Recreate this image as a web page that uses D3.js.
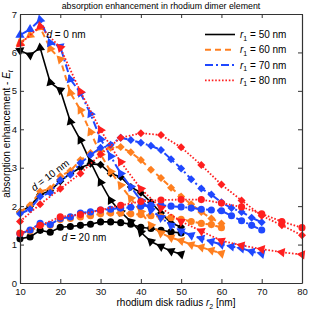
<!DOCTYPE html>
<html>
<head>
<meta charset="utf-8">
<script src="https://cdn.jsdelivr.net/npm/d3@7"></script>
<style>
  body { margin: 0; background: #fff; }
  svg { display: block; font-family: "Liberation Sans", Arial, sans-serif; }
</style>
</head>
<body>
<div id="chart"></div>
<script>
// disk radius r2 sampled for each r1
const radius50 = [10, 12.5, 15, 17.5, 20, 22.5, 25, 27.5, 30, 32.5, 35, 37.5, 40, 42.5, 45, 47.5, 50];
const radius60 = [10, 12.5, 15, 17.5, 20, 22.5, 25, 27.5, 30, 32.5, 35, 37.5, 40, 42.5, 45, 47.5, 50,
  52.5, 55, 57.5, 60];
const radius70 = [10, 12.5, 15, 17.5, 20, 22.5, 25, 27.5, 30, 32.5, 35, 37.5, 40, 42.5, 45, 47.5, 50,
  52.5, 55, 57.5, 60, 62.5, 65, 67.5, 70];
const radius80 = [10, 15, 20, 25, 30, 35, 40, 45, 50, 55, 60, 65, 70, 75, 80];

// enhancement values, one array per (r1, d)
const r50d0 = [6.05, 5.93, 6.12, 5.22, 5.02, 4.2, 3.72, 3.15, 2.62, 2.15, 1.85, 1.6, 1.32, 1.08, 0.95, 0.83, 0.75];
const r50d10 = [1.85, 2.0, 2.3, 2.4, 2.65, 2.85, 3.0, 3.1, 3.08, 2.85, 2.76, 2.5, 2.35, 2.1, 1.82, 1.56, 1.46];
const r50d20 = [1.15, 1.2, 1.37, 1.32, 1.45, 1.47, 1.5, 1.53, 1.59, 1.59, 1.57, 1.53, 1.45, 1.42, 1.37, 1.33, 1.3];

const r60d0 = [6.25, 6.45, 6.65, 6.1, 5.82, 4.95, 4.5, 3.93, 3.35, 2.9, 2.54, 2.2, 1.85, 1.5, 1.3, 1.18, 1.1,
  1.0, 0.93, 0.85, 0.77];
const r60d10 = [1.85, 2.02, 2.38, 2.45, 2.78, 2.92, 3.2, 3.38, 3.45, 3.52, 3.54, 3.4, 3.2, 2.95, 2.73, 2.48, 2.25,
  2.05, 1.85, 1.68, 1.55];
const r60d20 = [1.3, 1.35, 1.5, 1.5, 1.65, 1.68, 1.72, 1.75, 1.8, 1.82, 1.82, 1.8, 1.78, 1.75, 1.72, 1.7, 1.66,
  1.6, 1.55, 1.52, 1.44];

const r70d0 = [6.45, 6.6, 6.85, 6.25, 6.15, 5.3, 4.95, 4.4, 3.75, 3.3, 2.85, 2.5, 2.15, 1.9, 1.7, 1.5, 1.35,
  1.24, 1.16, 1.08, 1.0, 0.95, 0.9, 0.82, 0.76];
const r70d10 = [1.8, 1.92, 2.25, 2.35, 2.68, 2.82, 3.12, 3.33, 3.52, 3.6, 3.78, 3.72, 3.65, 3.57, 3.46, 3.22, 2.98,
  2.7, 2.46, 2.3, 2.1, 1.95, 1.85, 1.7, 1.58];
const r70d20 = [1.28, 1.38, 1.55, 1.52, 1.68, 1.72, 1.82, 1.85, 1.9, 1.92, 1.95, 1.97, 2.0, 2.02, 2.02, 2.0, 1.98,
  1.95, 1.92, 1.9, 1.88, 1.75, 1.62, 1.5, 1.38];

const r80d0 = [6.22, 6.68, 6.12, 4.98, 3.98, 3.15, 2.45, 1.95, 1.6, 1.35, 1.1, 0.98, 0.88, 0.8, 0.74];
const r80d10 = [1.6, 2.05, 2.45, 2.85, 3.35, 3.78, 3.9, 3.85, 3.53, 3.07, 2.56, 2.15, 1.75, 1.5, 1.24];
const r80d20 = [1.29, 1.5, 1.72, 1.78, 1.9, 2.02, 2.12, 2.16, 2.17, 2.17, 2.08, 1.98, 1.8, 1.6, 1.44];

const r1Values = [50, 60, 70, 80];
const xTicks = [10, 20, 30, 40, 50, 60, 70, 80];
const yTicks = [0, 1, 2, 3, 4, 5, 6, 7];

const series = [
  {r1: 50, d: 0, x: radius50, y: r50d0},
  {r1: 50, d: 10, x: radius50, y: r50d10},
  {r1: 50, d: 20, x: radius50, y: r50d20},
  {r1: 60, d: 0, x: radius60, y: r60d0},
  {r1: 60, d: 10, x: radius60, y: r60d10},
  {r1: 60, d: 20, x: radius60, y: r60d20},
  {r1: 70, d: 0, x: radius70, y: r70d0},
  {r1: 70, d: 10, x: radius70, y: r70d10},
  {r1: 70, d: 20, x: radius70, y: r70d20},
  {r1: 80, d: 0, x: radius80, y: r80d0},
  {r1: 80, d: 10, x: radius80, y: r80d10},
  {r1: 80, d: 20, x: radius80, y: r80d20},
];

// styles per r1
const colors = {50: '#000000', 60: '#ff7f1f', 70: '#1f48ff', 80: '#ff1f1f'};
const dashes = {50: null, 60: '6,4', 70: '8,3,2,3', 80: '1.6,1.8'};
const widths = {50: 1.6, 60: 2, 70: 2, 80: 1.8};

const margin = {top: 14, right: 7, bottom: 26, left: 20};
const W = 309;
const H = 309;
const width = W - margin.left - margin.right;
const height = H - margin.top - margin.bottom;

const svg = d3.select('#chart')
    .append('svg')
    .attr('width', W)
    .attr('height', H);

const g = svg.append('g')
    .attr('transform', 'translate(' + margin.left + ',' + margin.top + ')');

const x = d3.scaleLinear().domain([10, 80]).range([0, width]);
const y = d3.scaleLinear().domain([0, 7]).range([height, 0]);

svg.append('clipPath').attr('id', 'plotclip')
    .append('rect')
    .attr('x', -6).attr('y', -6)
    .attr('width', width + 12).attr('height', height + 12);

const plot = g.append('g').attr('clip-path', 'url(#plotclip)');

const line = d3.line()
    .x((d) => x(d[0]))
    .y((d) => y(d[1]));

const tri = d3.symbol().type(d3.symbolTriangle).size(38)();
const circ = d3.symbol().type(d3.symbolCircle).size(40)();
const sq = d3.symbol().type(d3.symbolSquare).size(32)();

series.forEach((s) => {
  const pts = s.x.map((v, i) => [v, s.y[i]]);
  const col = colors[s.r1];
  plot.append('path')
      .datum(pts)
      .attr('fill', 'none')
      .attr('stroke', col)
      .attr('stroke-width', widths[s.r1])
      .attr('stroke-dasharray', dashes[s.r1])
      .attr('d', line);

  const mk = plot.append('g');
  pts.forEach((p, i) => {
    const px = x(p[0]);
    const py = y(p[1]);
    let path;
    let rot = 0;
    if (s.d === 0) {
      // triangle pointing back along the curve
      const q = i > 0 ? pts[i - 1] : pts[i + 1];
      let dx = x(q[0]) - px;
      let dy = y(q[1]) - py;
      if (i === 0) {
        dx = -dx; dy = -dy;
      }
      rot = Math.atan2(dy, dx) * 180 / Math.PI + 90;
      path = tri;
    } else if (s.d === 10) {
      path = sq;
      rot = 45;
    } else {
      path = circ;
    }
    mk.append('path')
        .attr('d', path)
        .attr('fill', col)
        .attr('transform', 'translate(' + px + ',' + py + ') rotate(' + rot + ')');
  });
});

// axes, ticks point inward
const axisColor = '#333';
g.append('g')
    .attr('transform', 'translate(0,' + height + ')')
    .call(d3.axisBottom(x).tickValues(xTicks).tickFormat(d3.format('d'))
        .tickSize(-4).tickSizeOuter(0).tickPadding(5));
g.append('g')
    .call(d3.axisTop(x).tickValues(xTicks).tickSize(-4).tickSizeOuter(0).tickFormat(''));
g.append('g')
    .call(d3.axisLeft(y).tickValues(yTicks).tickFormat(d3.format('d'))
        .tickSize(-4).tickSizeOuter(0).tickPadding(3));
g.append('g')
    .attr('transform', 'translate(' + width + ',0)')
    .call(d3.axisRight(y).tickValues(yTicks).tickSize(-4).tickSizeOuter(0).tickFormat(''));

g.selectAll('.domain').attr('stroke', axisColor).attr('stroke-width', 1.2);
g.selectAll('.tick line').attr('stroke', axisColor);
g.selectAll('.tick text')
    .attr('fill', '#111')
    .style('font-size', '9.5px')
    .style('font-family', '"Liberation Sans", Arial, sans-serif');

// title
svg.append('text')
    .attr('x', margin.left + width / 2)
    .attr('y', 9)
    .attr('text-anchor', 'middle')
    .style('font-size', '8.8px')
    .text('absorption enhancement in rhodium dimer element');

// x label
const xl = svg.append('text')
    .attr('x', 176)
    .attr('y', 306)
    .attr('text-anchor', 'middle')
    .style('font-size', '10px');
xl.append('tspan').text('rhodium disk radius ');
xl.append('tspan').style('font-style', 'italic').text('r');
xl.append('tspan').attr('dy', 2.5).style('font-size', '7px').text('2');
xl.append('tspan').attr('dy', -2.5).text(' [nm]');

// y label
const yl = svg.append('text')
    .attr('transform', 'translate(10,134) rotate(-90)')
    .attr('text-anchor', 'middle')
    .style('font-size', '10px');
yl.append('tspan').text('absorption enhancement - ');
yl.append('tspan').style('font-style', 'italic').text('E');
yl.append('tspan').attr('dy', 2.5).style('font-size', '7px').style('font-style', 'italic').text('t');

// legend
const leg = svg.append('g');
r1Values.forEach((r, i) => {
  const ly = 34.5 + i * 15.3;
  leg.append('line')
      .attr('x1', 205).attr('x2', 235)
      .attr('y1', ly).attr('y2', ly)
      .attr('stroke', colors[r])
      .attr('stroke-width', widths[r])
      .attr('stroke-dasharray', dashes[r]);
  const t = leg.append('text')
      .attr('x', 240)
      .attr('y', ly + 3.5)
      .style('font-size', '10px');
  t.append('tspan').style('font-style', 'italic').text('r');
  t.append('tspan').attr('dy', 2.5).style('font-size', '7px').text('1');
  t.append('tspan').attr('dy', -2.5).text(' = ' + r + ' nm');
});

// d annotations
const ann = (tx, ty, rot, label) => {
  const t = svg.append('text')
      .attr('transform', 'translate(' + tx + ',' + ty + ') rotate(' + rot + ')')
      .attr('text-anchor', 'middle')
      .style('font-size', '10px');
  t.append('tspan').style('font-style', 'italic').text('d');
  t.append('tspan').text(' = ' + label + ' nm');
};
ann(66, 38, 0, '0');
ann(52, 178, -37, '10');
ann(84, 241, 0, '20');
</script>
</body>
</html>
